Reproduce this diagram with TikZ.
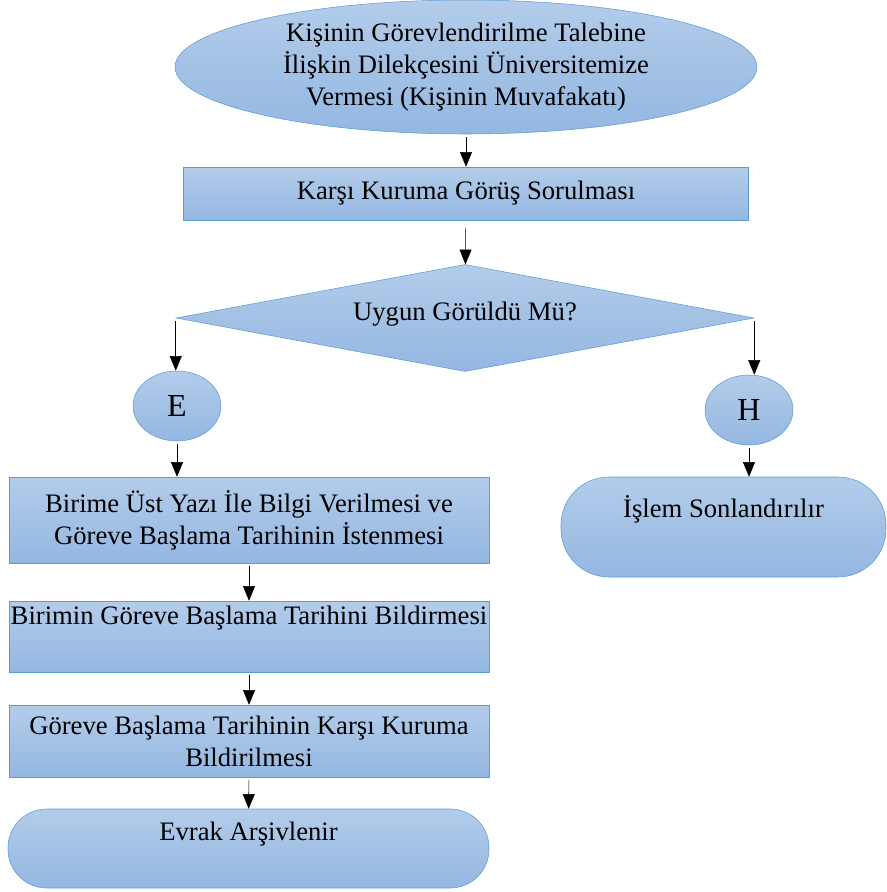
\documentclass[tikz,border=0pt]{standalone}
\usepackage{fontspec}
\setmainfont{Liberation Serif}
\usetikzlibrary{positioning, arrows.meta, shapes.geometric}

\definecolor{fillTop}{HTML}{B3CCEA}
\definecolor{fillBot}{HTML}{94B7E1}
\definecolor{edgeBlue}{HTML}{5B9BD5}

\tikzset{
    flow/.style={draw=edgeBlue, thin, top color=fillTop, bottom color=fillBot, inner sep=0pt, align=center, font=\fontsize{20pt}{24pt}\selectfont},
    proc/.style={flow, rectangle, minimum width=360pt},
    term/.style={flow, rectangle, rounded corners=29pt},
    conn/.style={flow, ellipse, minimum width=66pt, minimum height=52.5pt, font=\fontsize{24pt}{28pt}\selectfont},
    arr/.style={-{Triangle[width=9pt, length=11pt]}, black, thin, shorten <=2pt}
}

\begin{document}
\begin{tikzpicture}[x=0.75pt, y=-0.75pt]
    \useasboundingbox (0, 0) rectangle (887, 892);
    \node (start) [flow, ellipse, minimum width=436.5pt, minimum height=100.5pt] at (466, 67) {Kişinin Görevlendirilme Talebine\\İlişkin Dilekçesini Üniversitemize\\Vermesi (Kişinin Muvafakatı)};
    \node (gorus) [flow, rectangle, minimum width=423.75pt, minimum height=39.75pt] at (466, 193.5) {Karşı Kuruma Görüş Sorulması};
    \node (karar) [flow, diamond, aspect=5.4, minimum width=433.5pt, minimum height=80.25pt] at (465, 318) {\raisebox{10pt}{Uygun Görüldü Mü?}};
    \node (evet) [conn] at (177, 406) {E};
    \node (hayir) [conn] at (749, 410) {H};
    \node (bilgi) [proc, minimum height=64.5pt] at (249, 520) {Birime Üst Yazı İle Bilgi Verilmesi ve\\Göreve Başlama Tarihinin İstenmesi};
    \node (son) [term, minimum width=243.75pt, minimum height=75pt, rounded corners=36pt] at (723.5, 527) {İşlem Sonlandırılır\\\strut};
    \node (bildir) [proc, minimum height=53.25pt] at (249, 636.5) {Birimin Göreve Başlama Tarihini Bildirmesi\\\strut};
    \node (karsi) [proc, minimum height=54pt] at (249, 741) {Göreve Başlama Tarihinin Karşı Kuruma\\Bildirilmesi};
    \node (arsiv) [term, minimum width=360.75pt, minimum height=59.25pt] at (248.5, 848.5) {Evrak Arşivlenir\\[-6pt]\strut};

    \draw [arr] (start) -- (gorus);
    \draw [arr, shorten <=6pt] (gorus) -- (karar);
    \draw [arr] (karar.west) -- (karar.west |- evet.north);
    \draw [arr] (karar.east) -- (karar.east |- hayir.north);
    \draw [arr] (evet.south) -- (evet.south |- bilgi.north);
    \draw [arr] (hayir.south) -- (hayir.south |- son.north);
    \draw [arr] (bilgi) -- (bildir);
    \draw [arr] (bildir) -- (karsi);
    \draw [arr] (karsi) -- (arsiv);
\end{tikzpicture}
\end{document}
